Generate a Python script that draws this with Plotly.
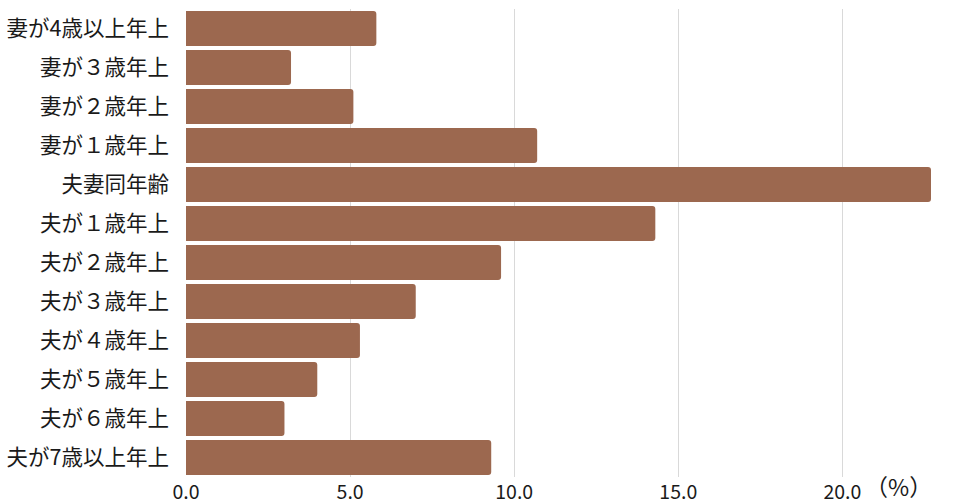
import plotly.graph_objects as go

categories = ["妻が4歳以上年上", "妻が３歳年上", "妻が２歳年上", "妻が１歳年上", "夫妻同年齢",
              "夫が１歳年上", "夫が２歳年上", "夫が３歳年上", "夫が４歳年上", "夫が５歳年上",
              "夫が６歳年上", "夫が7歳以上年上"]
values = [5.8, 3.2, 5.1, 10.7, 22.7, 14.3, 9.6, 7.0, 5.3, 4.0, 3.0, 9.3]
tick_vals = [0, 5, 10, 15, 20]
tick_text = ["0.0", "5.0", "10.0", "15.0", "20.0"]

font_family = "Noto Sans CJK JP"

fig = go.Figure(go.Bar(
    x=values, y=categories, orientation="h",
    marker=dict(color="#9C684F", cornerradius=3, line=dict(width=0)),
    hoverinfo="x+y",
))

fig.update_layout(
    width=960, height=504,
    margin=dict(l=186, r=29, t=9, b=27),
    paper_bgcolor="white", plot_bgcolor="white",
    bargap=0.1,
    showlegend=False,
    font=dict(family=font_family, color="#1a1a1a"),
    xaxis=dict(range=[0, 22.7], tickvals=tick_vals, ticktext=tick_text,
               showgrid=True, gridcolor="#d9d9d9", gridwidth=1,
               zeroline=False, showline=False, ticks="", automargin=False,
               ticklabelstandoff=1,
               tickfont=dict(size=19.5, family=font_family, color="#1a1a1a")),
    yaxis=dict(autorange="reversed", showgrid=False, zeroline=False, showline=False,
               ticks="", ticklabelstandoff=16, automargin=False,
               tickfont=dict(size=21.5, family=font_family, color="#1a1a1a")),
    annotations=[dict(text="（%）", xref="paper", yref="paper", x=0.957, y=-0.058,
                      xanchor="center", yanchor="bottom", showarrow=False, borderpad=0,
                      font=dict(size=23, family=font_family, color="#1a1a1a"))],
)

fig.write_html("out.html")
